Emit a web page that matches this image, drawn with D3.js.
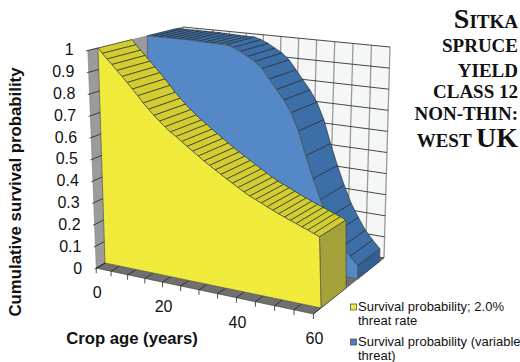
<!DOCTYPE html>
<html>
<head>
<meta charset="utf-8">
<script src="https://cdn.jsdelivr.net/npm/d3@7"></script>
<style>
  body { margin: 0; background: #fff; }
  text { font-family: "Liberation Sans", Arial, sans-serif; fill: #111; }
  .title { font-family: "Liberation Serif", "Times New Roman", serif; font-weight: 700; text-anchor: end; }
</style>
</head>
<body>
<div id="chart"></div>
<script>
// values
var yellow_age = [0,1.5,3,4.5,6,7.5,9,10.5,12,13.5,15,16.5,18,19.5,21,22.5,24,25.5,27,28.5,30,31.5,33,34.5,36,37.5,39,40.5,42,43.5,45,46.5,48,49.5,51,52.5,54,55.5,57,58.5,60];
var yellow_survival = [1,.977,.953,.93,.905,.88,.855,.828,.8,.77,.745,.72,.697,.675,.655,.638,.619,.601,.583,.565,.547,.531,.515,.499,.483,.468,.453,.438,.424,.413,.402,.39,.379,.368,.358,.348,.339,.329,.32,.31,.3];

var blue_age = [0,2,4,6,8,10,12,14,16,18,20,22,24,26,28,30,32,34,36,38,40,42,44,46,48,50,52,54,56,58,60];
var blue_survival = [1,1,1,1,1,1,1,1,.998,.997,.996,.995,.995,.985,.97,.95,.93,.9,.855,.81,.765,.71,.63,.52,.42,.33,.25,.19,.135,.095,.06];

var age_ticks = [0,5,10,15,20,25,30,35,40,45,50,55,60];
var age_labels = [0,20,40,60];
var prob_ticks = [0,.1,.2,.3,.4,.5,.6,.7,.8,.9,1];

var title_lines = [
  {y: 28, parts: [["S", 28], ["ITKA", 19]]},
  {y: 52, parts: [["SPRUCE", 19]]},
  {y: 77, parts: [["YIELD", 19]]},
  {y: 98, parts: [["CLASS 12", 19]]},
  {y: 120, parts: [["NON-THIN:", 19]]},
  {y: 147, parts: [["WEST ", 19], ["UK", 28]]}
];

var svg = d3.select("#chart")
  .append("svg")
  .attr("width", 520)
  .attr("height", 362);

// ticks bunch up at the far end of the age axis, hence the pow scale
var ageScale = d3.scalePow().exponent(1.08).domain([0, 60]).range([0, 1]);
var probScale = d3.scaleLinear().domain([0, 1]).range([0, 1]);

// the box corners on screen, [age, prob, depth]
var corners = {
  "000": [105, 263], "100": [321, 308],
  "010": [98, 48],   "110": [316, 71],
  "001": [178, 220], "101": [384, 258],
  "011": [183, 27],  "111": [390, 47]
};

function project(age, prob, depth) {
  var a = ageScale(age), p = probScale(prob), z = depth;
  var out = [0, 0];
  [0, 1].forEach(function(i) {
    var v00 = corners["000"][i] * (1 - a) + corners["100"][i] * a;
    var v10 = corners["010"][i] * (1 - a) + corners["110"][i] * a;
    var v01 = corners["001"][i] * (1 - a) + corners["101"][i] * a;
    var v11 = corners["011"][i] * (1 - a) + corners["111"][i] * a;
    var front = v00 * (1 - p) + v10 * p;
    var back = v01 * (1 - p) + v11 * p;
    out[i] = front * (1 - z) + back * z;
  });
  return out;
}

var path = d3.line();

function poly(pts, fill, stroke, sw) {
  return svg.append("path")
    .attr("d", path(pts) + "Z")
    .attr("fill", fill)
    .attr("stroke", stroke || "none")
    .attr("stroke-width", sw || 0)
    .attr("stroke-linejoin", "round");
}

function seg(a, b, stroke, sw) {
  svg.append("line")
    .attr("x1", a[0]).attr("y1", a[1])
    .attr("x2", b[0]).attr("y2", b[1])
    .attr("stroke", stroke)
    .attr("stroke-width", sw);
}

var front_edge = -0.12;

// back wall
poly([project(0,0,1), project(60,0,1), project(60,1,1), project(0,1,1)], "#f5f7f7");
age_ticks.forEach(function(a) {
  seg(project(a,0,1), project(a,1,1), "#999", 1.3);
});
prob_ticks.forEach(function(p) {
  seg(project(0,p,1), project(60,p,1), "#333", 0.9);
});

// left wall
poly([project(0,0,front_edge), project(0,0,1), project(0,1,1), project(0,1,front_edge)], "#9b9b9b", "#777", 0.5);

// floor
poly([project(0,0,front_edge), project(60,0,front_edge), project(60,0,1), project(0,0,1)], "#6f6f6f", "#444", 0.6);
age_ticks.forEach(function(a) {
  seg(project(a,0,front_edge), project(a,0,0), "#222", 0.8);
});

// a slab series: top surface, end face, front face
function drawSlab(ages, vals, z0, z1, colors) {
  for (var i = 0; i < ages.length - 1; i++) {
    poly([project(ages[i],vals[i],z0), project(ages[i+1],vals[i+1],z0),
          project(ages[i+1],vals[i+1],z1), project(ages[i],vals[i],z1)],
      colors.top, "#222", 0.6);
  }
  var n = ages.length - 1;
  poly([project(ages[n],0,z0), project(ages[n],vals[n],z0),
        project(ages[n],vals[n],z1), project(ages[n],0,z1)], colors.end, "#444", 0.7);
  var face = ages.map(function(a, i) { return project(a, vals[i], z0); });
  face.push(project(ages[n],0,z0));
  face.push(project(ages[0],0,z0));
  poly(face, colors.front, "#555", 0.7);
}

drawSlab(blue_age, blue_survival, 0.58, 0.93, {top: "#3c6fa8", end: "#335f92", front: "#5488c7"});
drawSlab(yellow_age, yellow_survival, 0, 0.4, {top: "#d2cd30", end: "#a4a13a", front: "#f0ea3a"});

// value axis
prob_ticks.forEach(function(p) {
  var inner = project(0, p, 0);
  var outer = project(0, p, -0.14);
  seg(outer, inner, "#222", 0.8);
  svg.append("text")
    .attr("x", outer[0] - 12.5)
    .attr("y", outer[1] + 4.5)
    .attr("text-anchor", "end")
    .attr("font-size", "16px")
    .text(p);
});

// age axis
age_ticks.forEach(function(a) {
  var pt = project(a, 0, front_edge);
  seg(pt, [pt[0], pt[1] + 5], "#222", 0.8);
});
age_labels.forEach(function(a) {
  var pt = project(a, 0, front_edge);
  svg.append("text")
    .attr("x", pt[0] + 1)
    .attr("y", pt[1] + 30)
    .attr("text-anchor", "middle")
    .attr("font-size", "16px")
    .text(a);
});

// axis titles
svg.append("text")
  .attr("x", 132).attr("y", 344)
  .attr("text-anchor", "middle")
  .attr("font-size", "16.7px")
  .attr("font-weight", 700)
  .text("Crop age (years)");

svg.append("text")
  .attr("transform", "translate(20.5, 192) rotate(-90)")
  .attr("text-anchor", "middle")
  .attr("font-size", "16.8px")
  .attr("font-weight", 700)
  .text("Cumulative survival probability");

// title block
title_lines.forEach(function(line) {
  var t = svg.append("text")
    .attr("class", "title")
    .attr("x", 518)
    .attr("y", line.y);
  line.parts.forEach(function(part) {
    t.append("tspan").attr("font-size", part[1] + "px").text(part[0]);
  });
});

// legend
var legend_items = [
  {color: "#f0ea3a", y: 307, lines: ["Survival probability; 2.0%", "threat rate"]},
  {color: "#4d82c2", y: 342, lines: ["Survival probability (variable", "threat)"]}
];
legend_items.forEach(function(item) {
  svg.append("rect")
    .attr("x", 350.5).attr("y", item.y - 3)
    .attr("width", 6).attr("height", 6)
    .attr("fill", item.color)
    .attr("stroke", "#444")
    .attr("stroke-width", 0.7);
  item.lines.forEach(function(txt, i) {
    svg.append("text")
      .attr("x", 358)
      .attr("y", item.y + 4 + i * 14)
      .attr("font-size", "13px")
      .text(txt);
  });
});
</script>
</body>
</html>
